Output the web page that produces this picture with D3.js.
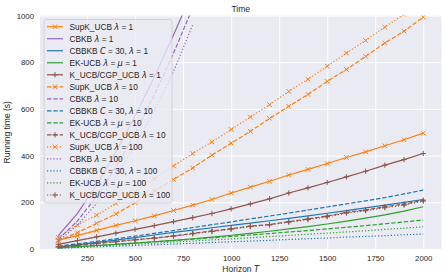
<!DOCTYPE html>
<html>
<head>
<meta charset="utf-8">
<script src="https://cdn.jsdelivr.net/npm/d3@7"></script>
<style>
body { margin: 0; background: #fff; }
text { font-family: "Liberation Sans", Arial, sans-serif; fill: #262626; }
.math { font-family: "DejaVu Sans", sans-serif; font-style: italic; }
</style>
</head>
<body>
<div id="chart"></div>
<script>
// horizons (x values)
var horizon = [100, 200, 300, 400, 500, 600, 700, 800, 900, 1000,
               1100, 1200, 1300, 1400, 1500, 1600, 1700, 1800, 1900, 2000];
// CBKB runs stopped early
var horizonShort = [100, 200, 300, 400, 500, 600, 700, 800];

var xTicks = [250, 500, 750, 1000, 1250, 1500, 1750, 2000];
var yTicks = [0, 200, 400, 600, 800, 1000];

// running times (s)
var supk1   = [38, 57, 80, 101, 121, 142, 165, 188, 212, 240, 265, 290, 317, 341, 366, 392, 416, 442, 468, 496];
var cbkb1   = [57, 153, 275, 414, 570, 737, 916, 1105];
var cbbkb1  = [9, 18, 28, 38, 49, 60, 71, 81, 91, 101, 111, 121, 131, 142, 153, 164, 176, 188, 200, 212];
var ek1     = [5, 10, 15, 20, 25, 31, 37, 44, 51, 59, 67, 76, 86, 96, 107, 119, 132, 146, 162, 181];
var kucb1   = [20, 36, 52, 68, 84, 100, 117, 134, 152, 172, 193, 215, 240, 262, 285, 309, 333, 359, 383, 409];

var supk10  = [35, 70, 110, 150, 198, 248, 298, 347, 402, 453, 504, 559, 611, 662, 718, 769, 825, 882, 933, 993];
var cbkb10  = [41, 120, 225, 351, 497, 659, 839, 1033];
var cbbkb10 = [12, 22, 33, 44, 55, 67, 79, 92, 104, 116, 129, 141, 154, 167, 180, 193, 206, 220, 236, 252];
var ek10    = [5, 10, 15, 20, 26, 31, 36, 42, 48, 54, 60, 66, 73, 79, 86, 93, 100, 108, 116, 124];
var kucb10  = [9, 16, 24, 32, 40, 47, 56, 67, 77, 87, 98, 105, 117, 129, 141, 157, 167, 181, 192, 209];

var supk100  = [50, 103, 145, 195, 245, 300, 356, 409, 459, 512, 565, 618, 675, 727, 783, 839, 893, 950, 1005, 1060];
var cbkb100  = [33, 102, 195, 310, 443, 593, 760, 960];
var cbbkb100 = [3, 6, 9, 12, 15, 18, 21, 24, 28, 31, 34, 37, 41, 44, 47, 51, 54, 57, 61, 64];
var ek100    = [4, 8, 12, 17, 21, 25, 30, 34, 39, 43, 48, 53, 58, 63, 68, 73, 78, 84, 89, 95];
var kucb100  = [9, 16, 23, 31, 39, 46, 55, 65, 75, 85, 96, 103, 115, 126, 138, 154, 164, 177, 188, 205];

var ORANGE = "#ff7f0e", PURPLE = "#9467bd", BLUE = "#1f77b4", GREEN = "#2ca02c", BROWN = "#8c564b";
var DASH = {solid: null, dashed: "4.4,1.9", dotted: "1.2,2"};

// plotting order = legend order
var series = [
	{label: ["SupK_UCB ", ["λ"], " = 1"], x: horizon, y: supk1, color: ORANGE, ls: "solid", marker: "x"},
	{label: ["CBKB ", ["λ"], " = 1"], x: horizonShort, y: cbkb1, color: PURPLE, ls: "solid"},
	{label: ["CBBKB ", ["C"], " = 30, ", ["λ"], " = 1"], x: horizon, y: cbbkb1, color: BLUE, ls: "solid"},
	{label: ["EK-UCB ", ["λ"], " = ", ["μ"], " = 1"], x: horizon, y: ek1, color: GREEN, ls: "solid"},
	{label: ["K_UCB/CGP_UCB ", ["λ"], " = 1"], x: horizon, y: kucb1, color: BROWN, ls: "solid", marker: "+"},
	{label: ["SupK_UCB ", ["λ"], " = 10"], x: horizon, y: supk10, color: ORANGE, ls: "dashed", marker: "x"},
	{label: ["CBKB ", ["λ"], " = 10"], x: horizonShort, y: cbkb10, color: PURPLE, ls: "dashed"},
	{label: ["CBBKB ", ["C"], " = 30, ", ["λ"], " = 10"], x: horizon, y: cbbkb10, color: BLUE, ls: "dashed"},
	{label: ["EK-UCB ", ["λ"], " = ", ["μ"], " = 10"], x: horizon, y: ek10, color: GREEN, ls: "dashed"},
	{label: ["K_UCB/CGP_UCB ", ["λ"], " = 10"], x: horizon, y: kucb10, color: BROWN, ls: "dashed", marker: "+"},
	{label: ["SupK_UCB ", ["λ"], " = 100"], x: horizon, y: supk100, color: ORANGE, ls: "dotted", marker: "x"},
	{label: ["CBKB ", ["λ"], " = 100"], x: horizonShort, y: cbkb100, color: PURPLE, ls: "dotted"},
	{label: ["CBBKB ", ["C"], " = 30, ", ["λ"], " = 100"], x: horizon, y: cbbkb100, color: BLUE, ls: "dotted"},
	{label: ["EK-UCB ", ["λ"], " = ", ["μ"], " = 100"], x: horizon, y: ek100, color: GREEN, ls: "dotted"},
	{label: ["K_UCB/CGP_UCB ", ["λ"], " = 100"], x: horizon, y: kucb100, color: BROWN, ls: "dotted", marker: "+"}
];

var width = 447, height = 280;
var plot = {left: 40, right: 441.5, top: 15.5, bottom: 249};

var svg = d3.select("#chart").append("svg")
	.attr("width", width)
	.attr("height", height);

var x = d3.scaleLinear().domain([5, 2095]).range([plot.left, plot.right]);
var y = d3.scaleLinear().domain([0, 1000]).range([plot.bottom, plot.top]);

svg.append("defs").append("clipPath").attr("id", "clip")
	.append("rect")
	.attr("x", plot.left).attr("y", plot.top)
	.attr("width", plot.right - plot.left).attr("height", plot.bottom - plot.top);

// background
svg.append("rect")
	.attr("x", plot.left).attr("y", plot.top)
	.attr("width", plot.right - plot.left).attr("height", plot.bottom - plot.top)
	.attr("fill", "#eaeaf2");

// grid + tick labels through axes
var xAxis = d3.axisBottom(x).tickValues(xTicks).tickFormat(d3.format("d"))
	.tickSize(-(plot.bottom - plot.top)).tickPadding(6);
var yAxis = d3.axisLeft(y).tickValues(yTicks).tickFormat(d3.format("d"))
	.tickSize(-(plot.right - plot.left)).tickPadding(6);

function styleAxis(g) {
	g.select(".domain").remove();
	g.selectAll("line").attr("stroke", "#fff").attr("stroke-width", 1);
	g.selectAll("text").attr("font-size", "7.8px").attr("fill", "#262626")
		.attr("font-family", "Liberation Sans, Arial, sans-serif");
}

svg.append("g")
	.attr("transform", "translate(0," + plot.bottom + ")")
	.call(xAxis)
	.call(styleAxis);

svg.append("g")
	.attr("transform", "translate(" + plot.left + ",0)")
	.call(yAxis)
	.call(styleAxis);

// lines
var lineGen = d3.line()
	.x(function(d) { return x(d[0]); })
	.y(function(d) { return y(d[1]); });

var plotG = svg.append("g").attr("clip-path", "url(#clip)");

function drawMarker(g, type, cx, cy, color, s) {
	var p;
	if (type === "x") {
		p = "M" + (cx - s) + "," + (cy - s) + "L" + (cx + s) + "," + (cy + s) +
			"M" + (cx - s) + "," + (cy + s) + "L" + (cx + s) + "," + (cy - s);
	} else {
		s = s * 1.15;
		p = "M" + (cx - s) + "," + cy + "L" + (cx + s) + "," + cy +
			"M" + cx + "," + (cy - s) + "L" + cx + "," + (cy + s);
	}
	g.append("path").attr("d", p).attr("stroke", color).attr("stroke-width", 1).attr("fill", "none");
}

series.forEach(function(s) {
	var pts = s.x.map(function(t, i) { return [t, s.y[i]]; });
	plotG.append("path")
		.datum(pts)
		.attr("d", lineGen)
		.attr("fill", "none")
		.attr("stroke", s.color)
		.attr("stroke-width", 1.2)
		.attr("stroke-dasharray", DASH[s.ls]);
	if (s.marker) {
		pts.forEach(function(p) {
			drawMarker(plotG, s.marker, x(p[0]), y(p[1]), s.color, 2.3);
		});
	}
});

// legend
var leg = svg.append("g");
leg.append("rect")
	.attr("x", 44).attr("y", 19.5)
	.attr("width", 128).attr("height", 183.5)
	.attr("rx", 2.5)
	.attr("fill", "#eaeaf2").attr("fill-opacity", 0.8)
	.attr("stroke", "#cccccc").attr("stroke-width", 0.8);

series.forEach(function(s, i) {
	var cy = 26.7 + i * 12.02;
	leg.append("line")
		.attr("x1", 47).attr("x2", 63).attr("y1", cy).attr("y2", cy)
		.attr("stroke", s.color).attr("stroke-width", 1.2)
		.attr("stroke-dasharray", DASH[s.ls]);
	if (s.marker) drawMarker(leg, s.marker, 55, cy, s.color, 2.3);
	var t = leg.append("text")
		.attr("x", 69.5).attr("y", cy + 3)
		.attr("font-size", "8.3px");
	s.label.forEach(function(part) {
		if (typeof part === "string") {
			t.append("tspan").text(part);
		} else {
			t.append("tspan").attr("class", "math").text(part[0]);
		}
	});
});

// title and axis labels
svg.append("text")
	.attr("x", (plot.left + plot.right) / 2).attr("y", 11.5)
	.attr("text-anchor", "middle").attr("font-size", "8.5px")
	.text("Time");

var xl = svg.append("text")
	.attr("x", (plot.left + plot.right) / 2).attr("y", 271.5)
	.attr("text-anchor", "middle").attr("font-size", "8.5px");
xl.append("tspan").text("Horizon ");
xl.append("tspan").attr("class", "math").text("T");

svg.append("text")
	.attr("transform", "translate(10," + ((plot.top + plot.bottom) / 2) + ") rotate(-90)")
	.attr("text-anchor", "middle").attr("font-size", "8.5px")
	.text("Running time (s)");
</script>
</body>
</html>
